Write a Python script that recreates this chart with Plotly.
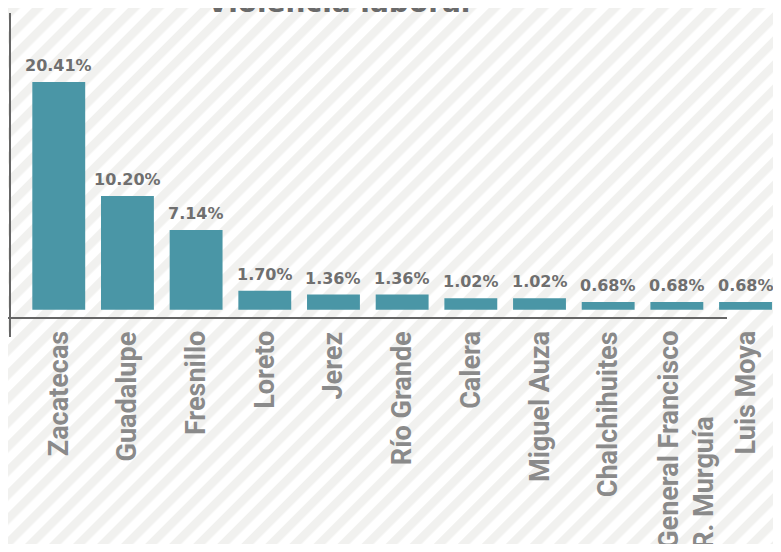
import base64
import plotly.graph_objects as go

categories = ["Zacatecas", "Guadalupe", "Fresnillo", "Loreto", "Jerez", "Río Grande",
              "Calera", "Miguel Auza", "Chalchihuites", "General Francisco<br>R. Murguía", "Luis Moya"]
values = [20.41, 10.20, 7.14, 1.70, 1.36, 1.36, 1.02, 1.02, 0.68, 0.68, 0.68]
title_text = "Violencia laboral"

# the page body adds an 8px margin, so the figure is sized to the visible area
W, H = 765, 536
L, R, T, B = 2, 0, 5, 226
PW = W - L - R
PH = H - T - B


def px_x(x):
    return (x - L) / PW


def px_y(y):
    return (H - B - y) / PH


BAR = "#4a96a6"
AXIS = "#666666"

svg = (
    f'<svg xmlns="http://www.w3.org/2000/svg" width="{W}" height="{H}">'
    '<defs><pattern id="p" width="17" height="17" patternUnits="userSpaceOnUse" '
    'patternTransform="rotate(45)"><rect width="8.5" height="17" fill="#f1f1ef"/></pattern></defs>'
    f'<rect width="{W}" height="{H}" fill="#ffffff"/>'
    f'<rect width="{W}" height="{H}" fill="url(#p)"/></svg>'
)
src = "data:image/svg+xml;base64," + base64.b64encode(svg.encode()).decode()

fig = go.Figure()
fig.add_trace(go.Bar(
    x=categories, y=values,
    marker=dict(color=BAR, line=dict(width=0)),
    hoverinfo="skip",
))

annotations = []
for c, v in zip(categories, values):
    annotations.append(dict(
        x=c, xref="x", y=v, yref="y", text=f"{v:.2f}%", showarrow=False,
        xanchor="center", yanchor="bottom", yshift=5,
        font=dict(family="DejaVu Sans", size=16, color="#6f6f6f", weight="bold"),
    ))
    annotations.append(dict(
        x=c, xref="x", y=px_y(321), yref="paper", text=c, showarrow=False,
        textangle=-90, xanchor="center", yanchor="top", align="left",
        xshift=9 if "<br>" in c else 0,
        font=dict(family="Roboto", size=27, color="#8a8a8a", weight="bold"),
    ))
annotations.append(dict(
    x=px_x(330), xref="paper", y=px_y(-5), yref="paper", text=title_text,
    showarrow=False, xanchor="center", yanchor="middle",
    font=dict(family="DejaVu Sans", size=28, color="#6a6a6a", weight="bold"),
))

shapes = [
    dict(type="line", xref="paper", yref="paper", x0=px_x(2), x1=px_x(2),
         y0=px_y(5), y1=px_y(329), line=dict(color=AXIS, width=2)),
    dict(type="line", xref="paper", yref="paper", x0=px_x(0), x1=px_x(719),
         y0=px_y(310), y1=px_y(310), line=dict(color=AXIS, width=2)),
]

fig.update_layout(
    width=W, height=H,
    margin=dict(l=L, r=R, t=T, b=B, autoexpand=False),
    paper_bgcolor="#ffffff", plot_bgcolor="rgba(0,0,0,0)",
    showlegend=False, bargap=0.23,
    xaxis=dict(range=[-0.71, 10.40], showticklabels=False, showline=False,
               showgrid=False, zeroline=False, ticks="", fixedrange=True),
    yaxis=dict(range=[-0.745, 26.6], showticklabels=False, showline=False,
               showgrid=False, zeroline=False, ticks="", fixedrange=True),
    annotations=annotations, shapes=shapes,
    images=[dict(source=src, xref="paper", yref="paper", x=px_x(0), y=px_y(0),
                 sizex=W / PW, sizey=H / PH, xanchor="left", yanchor="top",
                 sizing="stretch", layer="below")],
)

fig.write_html("out.html")
